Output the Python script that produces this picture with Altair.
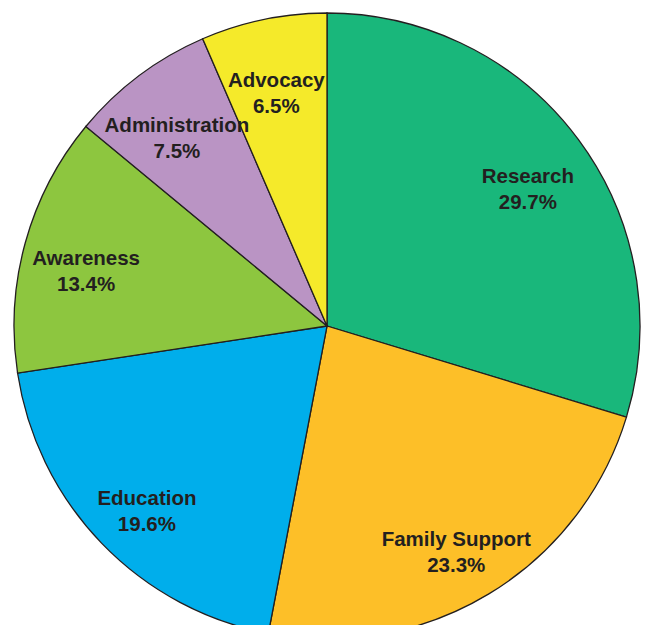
import altair as alt
import pandas as pd

categories = ["Research", "Family Support", "Education", "Awareness", "Administration", "Advocacy"]
values = [29.7, 23.3, 19.6, 13.4, 7.5, 6.5]
colors = ["#19B77B", "#FDBF28", "#00AEEB", "#8DC63F", "#BA94C4", "#F5EA2A"]

df = pd.DataFrame({
    "category": categories,
    "value": values,
    "order": list(range(len(categories))),
})
df["label"] = df.apply(lambda r: f"{r['category']}\n{r['value']:.1f}%", axis=1)

base = alt.Chart(df).encode(
    theta=alt.Theta("value:Q", stack=True),
    order=alt.Order("order:Q"),
    x=alt.value(319),
    y=alt.value(318),
)

pie = base.mark_arc(outerRadius=313, stroke="#231F20", strokeWidth=1.3).encode(
    color=alt.Color("category:N", scale=alt.Scale(domain=categories, range=colors), legend=None),
)

text = base.mark_text(
    radius=250, font="Liberation Sans", fontWeight="bold", fontSize=20.5,
    color="#231F20", lineBreak="\n", lineHeight=26, align="center", baseline="middle",
).encode(text="label:N")

chart = (pie + text).properties(
    width=633, height=617, padding=0, autosize=alt.AutoSizeParams(type="none"),
).configure_view(stroke=None)

chart.save("out.html", embed_options={"renderer": "svg", "actions": False})
